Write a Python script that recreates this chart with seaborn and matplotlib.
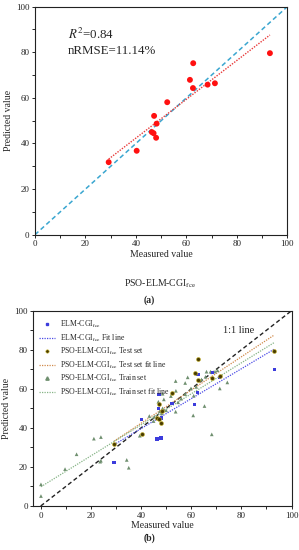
import numpy as np
import matplotlib
matplotlib.use("Agg")
import matplotlib.pyplot as plt
import seaborn as sns
from matplotlib.lines import Line2D
from matplotlib.ticker import MultipleLocator

# ── data ──
measured = [29.2, 40.3, 46.3, 47.0, 48.0, 47.2, 48.2, 52.4, 61.4, 62.7, 62.6, 68.4, 71.3, 93.1]
pso_pred = [31.8, 36.8, 45.0, 44.5, 42.5, 52.1, 48.7, 58.1, 67.9, 75.2, 64.3, 65.8, 66.4, 79.6]
elm_pred = [22.2, 44.4, 34.3, 50.0, 34.8, 57.2, 45.0, 52.4, 52.0, 67.4, 58.0, 68.5, 65.9, 70.0]

train_x = [0.1, 0.1, 9.7, 14.3, 21.2, 24.0, 24.0, 23.7, 34.3, 35.1, 39.5, 43.3, 45.3,
           46.9, 48.2, 48.6, 48.6, 49.1, 51.9, 53.8, 53.9, 53.8, 54.8, 57.6, 57.6, 58.6,
           59.9, 60.8, 61.0, 64.1, 65.3, 65.7, 66.1, 67.7, 68.2, 69.5, 71.4, 74.4, 45.0,
           47.5, 50.0, 56.0, 62.0, 70.5]
train_y = [11.1, 5.1, 18.9, 26.5, 34.5, 35.3, 23.2, 22.7, 23.6, 19.6, 36.0, 46.1, 45.7,
           53.4, 47.4, 57.5, 50.0, 54.6, 56.3, 64.0, 59.0, 48.3, 53.1, 63.0, 57.3, 65.9,
           60.2, 46.4, 56.5, 64.8, 51.2, 66.2, 68.8, 68.8, 36.7, 68.8, 60.2, 63.3, 43.5,
           48.5, 49.0, 55.0, 61.0, 69.5]

r2_text = "$R^2$=0.84"
nrmse_text = "nRMSE=11.14%"

sns.set_theme(style="ticks")
plt.rcParams["font.family"] = ["Liberation Serif", "DejaVu Serif"]
plt.rcParams["mathtext.fontset"] = "stix"

SUB = "CGI$_{\\mathrm{fce}}$"


def style_axes(ax, xmin, fs):
    ax.set_xlim(xmin, 100)
    ax.set_ylim(0, 100)
    ax.xaxis.set_major_locator(MultipleLocator(20))
    ax.yaxis.set_major_locator(MultipleLocator(20))
    ax.xaxis.set_minor_locator(MultipleLocator(10))
    ax.yaxis.set_minor_locator(MultipleLocator(10))
    ax.tick_params(which="both", direction="out", length=2.5, width=0.7,
                   labelsize=fs, pad=1.5, top=False, right=False)
    for s in ax.spines.values():
        s.set_linewidth(0.8)
        s.set_color("#222222")
    ax.set_xlabel("Measured value", fontsize=7, labelpad=1)
    ax.set_ylabel("Predicted value", fontsize=7, labelpad=2)


def fit_line(x, y, lo, hi):
    k, b = np.polyfit(x, y, 1)
    xs = np.array([lo, hi])
    return xs, k * xs + b


fig = plt.figure(figsize=(2.99, 5.5), dpi=100)

# ── (a) ──
ax1 = fig.add_axes([0.117, 0.5733, 0.844, 0.4146])
ax1.plot([0, 100], [0, 100], ls=(0, (3, 2)), color="#3aa6d0", lw=1.1)
fx, fy = fit_line(measured, pso_pred, min(measured), max(measured))
ax1.plot(fx, fy, ls=(0, (1, 1)), color="#e83a3a", lw=1.0)
sns.scatterplot(x=measured, y=pso_pred, ax=ax1, color="#ff1010", s=18,
                edgecolor="none", zorder=3)
ax1.text(13, 88, r2_text, fontsize=9.3, va="center")
ax1.text(13, 80.5, nrmse_text, fontsize=9.3, va="center")
style_axes(ax1, 0, 6.5)
fig.text(0.535, 0.485, "PSO-ELM-" + SUB, ha="center", va="center", fontsize=7)
fig.text(0.5, 0.455, "(a)", ha="center", va="center", fontsize=7, fontweight="bold")

# ── (b) ──
ax2 = fig.add_axes([0.111, 0.08, 0.864, 0.355])
ax2.plot([0, 100], [0, 100], ls=(0, (3, 2)), color="#222222", lw=1.0)
ex, ey = fit_line(measured, elm_pred, min(measured), max(measured))
tx, ty = fit_line(measured, pso_pred, min(measured), max(measured))
rx, ry = fit_line(train_x, train_y, min(train_x), max(measured))
ax2.plot(ex, ey, ls=(0, (1, 1)), color="#4a4ae6", lw=0.9)
ax2.plot(tx, ty, ls=(0, (1, 1)), color="#d08a4a", lw=0.9)
ax2.plot(rx, ry, ls=(0, (1, 1)), color="#86b486", lw=0.9)
sns.scatterplot(x=train_x, y=train_y, ax=ax2, marker="^", color="#6f8f6f", s=7,
                edgecolor="none", zorder=3)
sns.scatterplot(x=measured, y=elm_pred, ax=ax2, marker="s", color="#3c3cdc", s=6,
                edgecolor="none", zorder=3)
sns.scatterplot(x=measured, y=pso_pred, ax=ax2, marker="o", color="#4a3c00", s=8,
                edgecolor="#c8b428", linewidth=0.4, zorder=4)
ax2.text(79, 90, "1:1 line", fontsize=7.5, ha="center", va="center")
style_axes(ax2, -3, 6.5)

handles = [
    Line2D([], [], ls="none", marker="s", ms=2, color="#3c3cdc"),
    Line2D([], [], ls=(0, (1, 1)), lw=0.9, color="#4a4ae6"),
    Line2D([], [], ls="none", marker="o", ms=2.4, color="#4a3c00", mec="#c8b428", mew=0.4),
    Line2D([], [], ls=(0, (1, 1)), lw=0.9, color="#d08a4a"),
    Line2D([], [], ls="none", marker="^", ms=2.4, color="#6f8f6f"),
    Line2D([], [], ls=(0, (1, 1)), lw=0.9, color="#86b486"),
]
labels = [
    "ELM-" + SUB,
    "ELM-" + SUB + " Fit line",
    "PSO-ELM-" + SUB + " Test set",
    "PSO-ELM-" + SUB + " Test set fit line",
    "PSO-ELM-" + SUB + " Train set",
    "PSO-ELM-" + SUB + " Train set fit line",
]
ax2.legend(handles, labels, loc="upper left", frameon=False, fontsize=5.6,
           handlelength=2.0, handletextpad=0.6, labelspacing=0.3,
           borderaxespad=0.4, bbox_to_anchor=(0.0, 0.99))
fig.text(0.5, 0.022, "(b)", ha="center", va="center", fontsize=7, fontweight="bold")

fig.savefig("out.png", dpi=100)
